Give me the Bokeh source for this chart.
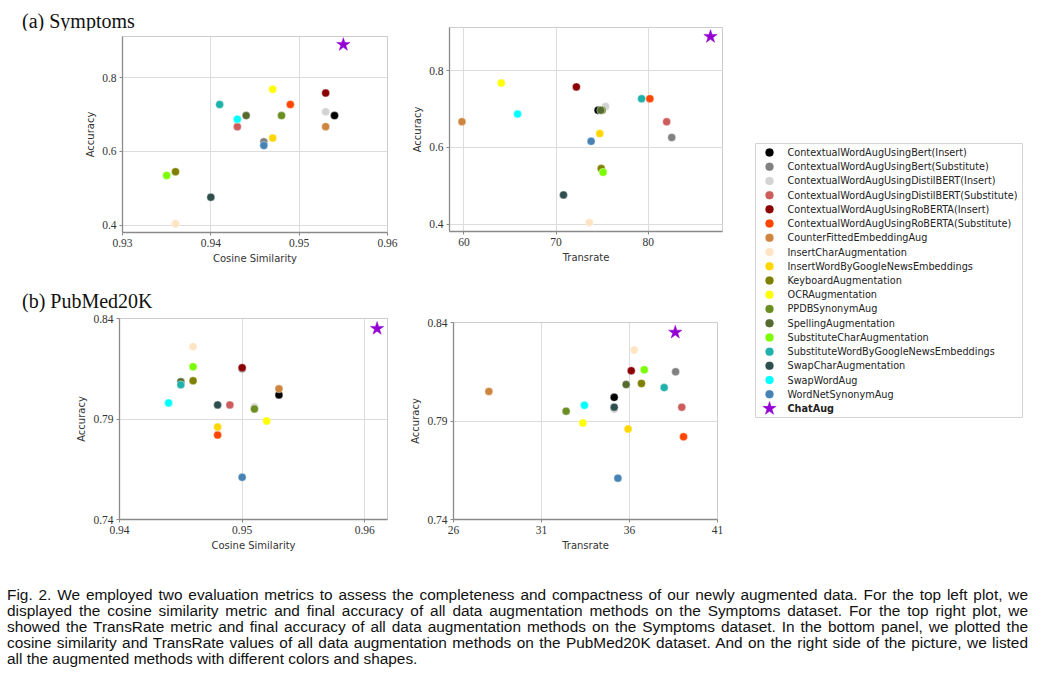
from bokeh.plotting import figure
from bokeh.models import ColumnDataSource, Range1d, FixedTicker, FactorRange, Div
from bokeh.layouts import row, column
from bokeh.core.properties import value
from bokeh.embed import file_html
from bokeh.resources import INLINE

# ---------------- data ----------------
methods = [
    "ContextualWordAugUsingBert(Insert)",
    "ContextualWordAugUsingBert(Substitute)",
    "ContextualWordAugUsingDistilBERT(Insert)",
    "ContextualWordAugUsingDistilBERT(Substitute)",
    "ContextualWordAugUsingRoBERTA(Insert)",
    "ContextualWordAugUsingRoBERTA(Substitute)",
    "CounterFittedEmbeddingAug",
    "InsertCharAugmentation",
    "InsertWordByGoogleNewsEmbeddings",
    "KeyboardAugmentation",
    "OCRAugmentation",
    "PPDBSynonymAug",
    "SpellingAugmentation",
    "SubstituteCharAugmentation",
    "SubstituteWordByGoogleNewsEmbeddings",
    "SwapCharAugmentation",
    "SwapWordAug",
    "WordNetSynonymAug",
]
colors = ["black", "gray", "lightgray", "indianred", "darkred", "orangered",
          "peru", "bisque", "gold", "olive", "yellow", "olivedrab",
          "darkolivegreen", "lawngreen", "lightseagreen", "darkslategray",
          "cyan", "steelblue"]

sym_cos = [0.954, 0.946, 0.953, 0.943, 0.953, 0.949, 0.953, 0.936, 0.947,
           0.936, 0.947, 0.948, 0.944, 0.935, 0.941, 0.940, 0.943, 0.946]
sym_trans = [74.56, 82.55, 75.37, 82.0, 72.2, 80.18, 59.78, 73.6, 74.74,
             74.9, 64.05, 75.0, 74.85, 75.1, 79.28, 70.8, 65.82, 73.8]
sym_acc = [0.697, 0.626, 0.707, 0.667, 0.758, 0.727, 0.667, 0.404, 0.636,
           0.545, 0.768, 0.697, 0.697, 0.535, 0.727, 0.476, 0.687, 0.616]

pub_cos = [0.953, 0.950, 0.951, 0.949, 0.950, 0.948, 0.953, 0.946, 0.948,
           0.946, 0.952, 0.951, 0.945, 0.946, 0.945, 0.948, 0.944, 0.950]
pub_trans = [35.13, 38.62, 35.13, 38.97, 36.1, 39.07, 28.01, 36.27, 35.92,
             36.68, 33.35, 32.4, 35.81, 36.84, 37.97, 35.13, 33.44, 35.34]
pub_acc = [0.802, 0.815, 0.796, 0.797, 0.8155, 0.782, 0.805, 0.826, 0.786,
           0.809, 0.789, 0.795, 0.8085, 0.816, 0.807, 0.797, 0.798, 0.761]

chat_name = "ChatAug"
chat_color = "darkviolet"
chat_sym_cos, chat_sym_trans, chat_sym_acc = 0.955, 86.76, 0.889
chat_pub_cos, chat_pub_trans, chat_pub_acc = 0.961, 38.6, 0.835

sym_cos_ticks = [0.93, 0.94, 0.95, 0.96]
sym_cos_labels = ["0.93", "0.94", "0.95", "0.96"]
sym_trans_ticks = [60, 70, 80]
sym_trans_labels = ["60", "70", "80"]
sym_acc_ticks = [0.4, 0.6, 0.8]
sym_acc_labels = ["0.4", "0.6", "0.8"]
pub_cos_ticks = [0.94, 0.95, 0.96]
pub_cos_labels = ["0.94", "0.95", "0.96"]
pub_trans_ticks = [26, 31, 36, 41]
pub_trans_labels = ["26", "31", "36", "41"]
pub_acc_ticks = [0.74, 0.79, 0.84]
pub_acc_labels = ["0.74", "0.79", "0.84"]

caption_lines = [
    "Fig. 2. We employed two evaluation metrics to assess the completeness and compactness of our newly augmented data. For the top left plot, we",
    "displayed the cosine similarity metric and final accuracy of all data augmentation methods on the Symptoms dataset. For the top right plot, we",
    "showed the TransRate metric and final accuracy of all data augmentation methods on the Symptoms dataset. In the bottom panel, we plotted the",
    "cosine similarity and TransRate values of all data augmentation methods on the PubMed20K dataset. And on the right side of the picture, we listed",
    "all the augmented methods with different colors and shapes.",
]

SERIF = "Liberation Serif"
SANS = "DejaVu Sans"


def panel(xs, ys, cx, cy, xr, yr, xt, xtl, yt, ytl, xlabel,
          w, h, bl, br, bt, bb):
    p = figure(width=w, height=h, x_range=Range1d(*xr), y_range=Range1d(*yr),
               output_backend="svg", toolbar_location=None,
               min_border_left=bl, min_border_right=br,
               min_border_top=bt, min_border_bottom=bb,
               background_fill_color="white", border_fill_color="white",
               outline_line_color="#cccccc", outline_line_width=1)
    xtick = FixedTicker(ticks=xt, minor_ticks=[])
    ytick = FixedTicker(ticks=yt, minor_ticks=[])
    p.xaxis.ticker = xtick
    p.yaxis.ticker = ytick
    p.xgrid.ticker = xtick
    p.ygrid.ticker = ytick
    p.xaxis.major_label_overrides = dict(zip(xt, xtl))
    p.yaxis.major_label_overrides = dict(zip(yt, ytl))
    for ax in (p.xaxis[0], p.yaxis[0]):
        ax.axis_line_color = "#8a8a8a"
        ax.axis_line_width = 1.3
        ax.major_tick_out = 3
        ax.major_tick_in = 0
        ax.minor_tick_out = 0
        ax.minor_tick_in = 0
        ax.major_tick_line_color = "#8a8a8a"
        ax.major_label_text_font = SERIF
        ax.major_label_text_font_size = "11.5px"
        ax.major_label_text_color = "#333333"
        ax.major_label_standoff = 3
        ax.axis_label_text_font = SANS
        ax.axis_label_text_font_size = "10px"
        ax.axis_label_text_font_style = "normal"
        ax.axis_label_text_color = "#333333"
        ax.axis_label_standoff = 3
    p.xaxis.axis_label = xlabel
    p.yaxis.axis_label = "Accuracy"
    p.grid.grid_line_color = "#dcdcdc"
    p.grid.grid_line_width = 1
    src = ColumnDataSource(dict(x=xs, y=ys, color=colors, name=methods))
    p.scatter("x", "y", source=src, marker="circle", size=8,
              fill_color="color", line_color="white", line_width=0.4)
    p.scatter(x=[cx], y=[cy], marker="star", size=14,
              fill_color=chat_color, line_color=chat_color, line_width=0.5)
    return p


figA1 = panel(sym_cos, sym_acc, chat_sym_cos, chat_sym_acc,
              (0.93, 0.96), (0.3805, 0.911),
              sym_cos_ticks, sym_cos_labels, sym_acc_ticks, sym_acc_labels,
              "Cosine Similarity", 400, 253, 122, 13, 6, 51)
figA2 = panel(sym_trans, sym_acc, chat_sym_trans, chat_sym_acc,
              (58.43, 88.06), (0.3805, 0.913),
              sym_trans_ticks, sym_trans_labels, sym_acc_ticks, sym_acc_labels,
              "Transrate", 345, 283, 49, 23, 27, 52)
figB1 = panel(pub_cos, pub_acc, chat_pub_cos, chat_pub_acc,
              (0.94, 0.96185), (0.74, 0.84),
              pub_cos_ticks, pub_cos_labels, pub_acc_ticks, pub_acc_labels,
              "Cosine Similarity", 400, 250, 119, 13, 6, 43)
figB2 = panel(pub_trans, pub_acc, chat_pub_trans, chat_pub_acc,
              (26, 41), (0.74, 0.84),
              pub_trans_ticks, pub_trans_labels, pub_acc_ticks, pub_acc_labels,
              "Transrate", 345, 279, 53, 28, 39, 43)

# ---------------- legend panel ----------------
all_names = methods + [chat_name]
leg = figure(width=303, height=562, output_backend="svg", toolbar_location=None,
             x_range=Range1d(-14, 253),
             y_range=FactorRange(factors=list(reversed(all_names)),
                                 range_padding=0.13, range_padding_units="absolute"),
             x_axis_type=None, y_axis_type=None,
             min_border_left=10, min_border_right=26,
             min_border_top=143, min_border_bottom=145,
             background_fill_color="white", border_fill_color="white",
             outline_line_color="#d4d4d4", outline_line_width=1)
leg.grid.visible = False
zeros = [0] * len(methods)
lsrc = ColumnDataSource(dict(x=zeros, name=methods, color=colors))
leg.scatter("x", "name", source=lsrc, marker="circle", size=8,
            fill_color="color", line_color="color", line_width=0.3)
leg.text("x", "name", text="name", source=lsrc, x_offset=18,
         text_baseline="middle", text_align="left",
         text_font=value(SANS), text_font_size="9.7px", text_color="#222222")
csrc = ColumnDataSource(dict(x=[0], name=[chat_name]))
leg.scatter("x", "name", source=csrc, marker="star", size=14,
            fill_color=chat_color, line_color=chat_color, line_width=0.5)
leg.text("x", "name", text="name", source=csrc, x_offset=18,
         text_baseline="middle", text_align="left",
         text_font=value(SANS), text_font_size="9.7px",
         text_font_style="bold", text_color="#222222")

# ---------------- titles & caption ----------------
def title_div(txt, pad_top, h):
    return Div(text=('<div style="font-family:\'Liberation Serif\';font-size:20px;'
                     'color:#111;white-space:nowrap;padding:%dpx 0 0 22px;">%s</div>'
                     % (pad_top, txt)),
               width=400, height=h, margin=0)

divA = title_div("(a) Symptoms", 7, 30)
divB = title_div("(b) PubMed20K", 4, 29)

cap_html = "".join(
    '<div style="text-align:justify;text-align-last:%s;white-space:nowrap;">%s</div>'
    % ("justify" if i < len(caption_lines) - 1 else "left", ln)
    for i, ln in enumerate(caption_lines))
caption = Div(text=('<div style="font-family:\'Liberation Sans\';font-size:15.4px;'
                    'line-height:16px;color:#111;width:1028px;padding:25px 0 0 7px;">'
                    + cap_html + '</div>'),
              width=1048, height=119, margin=0)

for f in (figA1, figA2, figB1, figB2, leg):
    f.margin = 0

colA = column(divA, figA1, spacing=0)
rowTop = row(colA, figA2, spacing=0)
colB = column(divB, figB1, spacing=0)
rowBot = row(colB, figB2, spacing=0)
plots = column(rowTop, rowBot, spacing=0)
main = row(plots, leg, spacing=0)
root = column(main, caption, spacing=0)

open("out.html", "w").write(file_html(root, INLINE))
